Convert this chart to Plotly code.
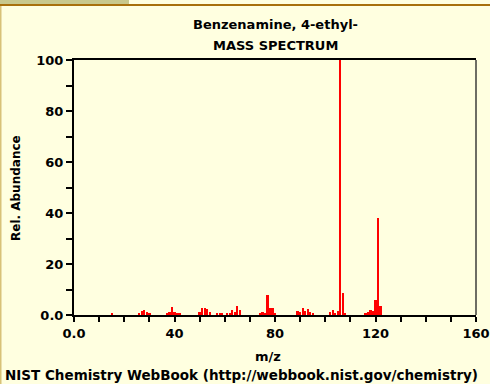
import plotly.graph_objects as go

# Mass spectrum of Benzenamine, 4-ethyl- (m/z vs relative abundance)
mz = [15, 26, 27, 28, 29, 30, 37, 38, 39, 40, 41, 42,
      50, 51, 52, 53, 54, 57, 58, 59, 61, 62, 63, 64, 65, 66,
      74, 75, 76, 77, 78, 79, 80, 89, 90, 91, 92, 93, 94, 95,
      102, 103, 104, 105, 106, 107, 108, 116, 117, 118, 119, 120, 121, 122]
abundance = [0.5, 0.6, 1.6, 2.0, 1.3, 0.6, 0.8, 1.0, 3.3, 1.0, 0.6, 0.5,
             1.2, 2.6, 2.8, 2.2, 1.0, 0.6, 0.9, 0.6, 0.7, 0.9, 2.0, 1.0, 3.4, 2.0,
             0.6, 1.0, 0.8, 7.8, 2.9, 2.9, 0.5, 1.4, 1.0, 2.9, 1.4, 2.4, 1.0, 0.4,
             1.0, 1.9, 0.6, 1.6, 100.0, 8.5, 0.6, 0.6, 1.0, 2.0, 1.4, 5.9, 38.0, 3.5]

x_ticks = list(range(0, 161, 10))
x_labels = {0: "0.0", 40: "40", 80: "80", 120: "120", 160: "160"}
y_ticks = list(range(0, 101, 10))
y_labels = {0: "0.0", 20: "20", 40: "40", 60: "60", 80: "80", 100: "100"}

title_lines = ["Benzenamine, 4-ethyl-", "MASS SPECTRUM"]
x_title = "m/z"
y_title = "Rel. Abundance"
footer = "NIST Chemistry WebBook (http://webbook.nist.gov/chemistry)"

BG = "#ffffe0"
FONT = "DejaVu Sans"
W, H = 490, 384
L, R, T, B = 74, 14, 60, 69
pw, ph = W - L - R, H - T - B


def px_to_paper_x(px):
    return (px - L) / pw


def px_to_paper_y(py):
    return 1 - (py - T) / ph


fig = go.Figure(go.Bar(
    x=mz, y=abundance, width=0.9,
    marker=dict(color="#ff0000", line=dict(width=0)),
    hoverinfo="x+y",
))

fig.update_layout(
    width=W, height=H,
    margin=dict(l=L, r=R, t=T, b=B, pad=0, autoexpand=False),
    paper_bgcolor=BG, plot_bgcolor=BG,
    showlegend=False, bargap=0,
    font=dict(family=FONT, size=12, color="#000000", weight="bold"),
    xaxis=dict(
        range=[0, 160], tickmode="array", tickvals=x_ticks,
        ticktext=[x_labels.get(v, "") for v in x_ticks],
        ticks="outside", ticklen=5, tickwidth=2, tickcolor="#000",
        showline=True, linecolor="#000", linewidth=2, mirror=True,
        showgrid=False, zeroline=False, automargin=False,
        tickfont=dict(family=FONT, size=13, weight="bold"),
        fixedrange=True,
    ),
    yaxis=dict(
        range=[0, 100], tickmode="array", tickvals=y_ticks,
        ticktext=[y_labels.get(v, "") for v in y_ticks],
        ticks="outside", ticklen=6, tickwidth=2, tickcolor="#000",
        showline=True, linecolor="#000", linewidth=2,
        showgrid=False, zeroline=False, automargin=False,
        tickfont=dict(family=FONT, size=13, weight="bold"),
        fixedrange=True,
    ),
)

# Frame decoration: header band, rule, left edge, and the gray right border
fig.add_shape(type="rect", xref="paper", yref="paper",
              x0=px_to_paper_x(0), x1=px_to_paper_x(129),
              y0=px_to_paper_y(0), y1=px_to_paper_y(4),
              fillcolor="#c8c88c", line=dict(width=0), layer="below")
fig.add_shape(type="rect", xref="paper", yref="paper",
              x0=px_to_paper_x(0), x1=px_to_paper_x(W),
              y0=px_to_paper_y(4), y1=px_to_paper_y(6),
              fillcolor="#a8700c", line=dict(width=0), layer="below")
fig.add_shape(type="rect", xref="paper", yref="paper",
              x0=px_to_paper_x(0), x1=px_to_paper_x(1.5),
              y0=px_to_paper_y(6), y1=px_to_paper_y(H),
              fillcolor="#d8c278", line=dict(width=0), layer="below")
fig.add_shape(type="line", xref="paper", yref="paper",
              x0=1, x1=1, y0=0, y1=1,
              line=dict(color="#6e6e64", width=2))


def label(text, px, py, size, **kw):
    fig.add_annotation(text=text, xref="paper", yref="paper",
                       x=px_to_paper_x(px), y=px_to_paper_y(py),
                       showarrow=False, yanchor="middle",
                       font=dict(family=FONT, size=size, weight="bold"), **kw)


label(title_lines[0], 275, 24, 13, xanchor="center")
label(title_lines[1], 275, 46, 13, xanchor="center")
label(x_title, 268, 356, 13, xanchor="center")
label(y_title, 16, 188, 12, xanchor="center", textangle=-90)
label(footer, 3, 375, 13.5, xanchor="left")

fig.write_html("out.html")
